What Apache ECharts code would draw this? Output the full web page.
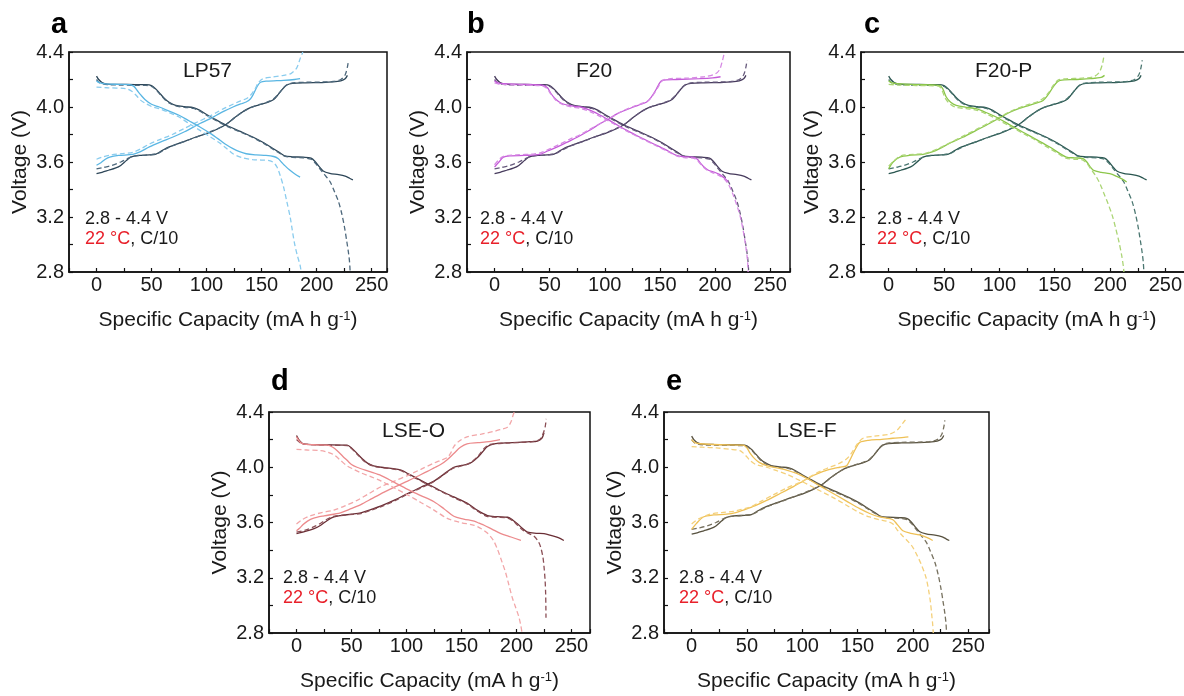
<!DOCTYPE html>
<html>
<head>
<meta charset="utf-8">
<script src="https://cdn.jsdelivr.net/npm/echarts@6.0.0/dist/echarts.min.js"></script>
<style>
html, body { margin: 0; padding: 0; background: #fff; }
#main { width: 1184px; height: 696px; }
</style>
</head>
<body>
<div id="main"></div>
<script>
// ---- data: [capacity (mA h g-1), voltage (V)] ----
// dark reference curves, shared by panels a, b, c, e
var DARK_CHG = [[0,3.515],[5,3.525],[11,3.54],[17,3.555],[22,3.575],[27,3.61],[31,3.635],[38,3.648],[48,3.652],[54,3.657],[60,3.685],[66,3.71],[78,3.745],[90,3.78],[100,3.806],[110,3.84],[118,3.875],[125,3.92],[131,3.955],[137,3.985],[143,4.005],[150,4.02],[156,4.035],[161,4.055],[165,4.09],[169,4.13],[173,4.16],[178,4.172],[190,4.176],[205,4.178],[215,4.182],[222,4.19],[226,4.205],[228,4.23]];
var DARK_CHG_DASH = [[0,3.55],[6,3.56],[14,3.575],[22,3.6],[28,3.625],[34,3.642],[45,3.65],[55,3.66],[62,3.69],[70,3.72],[82,3.755],[95,3.795],[108,3.835],[118,3.875],[126,3.925],[133,3.965],[140,3.995],[147,4.015],[155,4.035],[161,4.06],[166,4.1],[171,4.15],[176,4.172],[190,4.18],[205,4.182],[215,4.186],[222,4.2],[226,4.235],[228,4.29],[229,4.34]];
var DARK_DIS = [[0,4.225],[2,4.2],[5,4.178],[10,4.167],[20,4.165],[35,4.163],[45,4.162],[50,4.155],[54,4.13],[58,4.095],[62,4.06],[66,4.035],[72,4.012],[80,4.002],[88,3.995],[94,3.975],[100,3.945],[108,3.91],[118,3.867],[130,3.825],[142,3.782],[152,3.74],[160,3.7],[166,3.67],[171,3.645],[178,3.638],[188,3.635],[195,3.628],[199,3.6],[202,3.57],[206,3.535],[212,3.518],[220,3.508],[226,3.497],[230,3.482],[233,3.47]];
var DARK_DIS_DASH = [[0,4.2],[3,4.175],[10,4.162],[20,4.16],[35,4.158],[45,4.157],[50,4.15],[54,4.125],[58,4.09],[62,4.055],[66,4.03],[72,4.008],[80,3.998],[88,3.99],[94,3.97],[100,3.94],[108,3.905],[118,3.862],[130,3.82],[142,3.778],[152,3.735],[160,3.695],[166,3.665],[171,3.642],[178,3.634],[188,3.63],[195,3.62],[199,3.59],[203,3.55],[207,3.51],[212,3.46],[216,3.39],[220,3.31],[223,3.22],[225.5,3.12],[227.5,3.02],[229,2.94],[230,2.87],[230.5,2.8]];

// a: LP57
var LP57_CHG = [[0,3.576],[4,3.595],[8,3.62],[12,3.636],[20,3.648],[33,3.655],[40,3.675],[48,3.71],[58,3.745],[69,3.78],[80,3.82],[94,3.88],[102,3.91],[109,3.94],[116,3.97],[124,4.0],[131,4.022],[136,4.036],[140,4.06],[143,4.1],[146,4.15],[149,4.18],[155,4.188],[170,4.194],[180,4.2],[185,4.206]];
var LP57_CHG_DASH = [[0,3.62],[5,3.635],[12,3.65],[22,3.66],[33,3.67],[40,3.695],[48,3.73],[58,3.765],[69,3.8],[80,3.845],[94,3.9],[102,3.93],[109,3.96],[116,3.99],[124,4.02],[131,4.045],[136,4.06],[140,4.085],[144,4.13],[147,4.175],[151,4.205],[160,4.218],[170,4.23],[177,4.245],[182,4.285],[185,4.35],[187.5,4.4]];
var LP57_DIS = [[0,4.19],[3,4.175],[8,4.168],[20,4.165],[30,4.163],[34,4.15],[37,4.12],[40,4.09],[44,4.055],[50,4.02],[57,4.0],[66,3.97],[75,3.94],[84,3.9],[94,3.855],[103,3.81],[112,3.76],[118,3.725],[124,3.697],[130,3.675],[136,3.66],[145,3.652],[154,3.648],[161,3.64],[165,3.625],[168,3.6],[171,3.575],[175,3.545],[180,3.515],[185,3.49]];
var LP57_DIS_DASH = [[0,4.145],[10,4.14],[27,4.133],[32,4.115],[36,4.085],[40,4.05],[45,4.024],[51,4.0],[57,3.988],[66,3.96],[75,3.927],[84,3.88],[94,3.83],[103,3.785],[112,3.738],[118,3.7],[124,3.66],[132,3.632],[142,3.617],[150,3.614],[157,3.61],[161,3.595],[164,3.564],[167,3.5],[170,3.418],[173,3.31],[176,3.2],[178,3.1],[180,3.006],[182.5,2.92],[185,2.85],[186,2.8]];

// b: F20
var F20_CHG = [[0,3.564],[4,3.6],[8,3.636],[15,3.645],[27,3.648],[41,3.655],[48,3.68],[57,3.71],[66,3.745],[75,3.78],[85,3.825],[96,3.88],[104,3.915],[111,3.95],[118,3.975],[126,4.0],[133,4.02],[138,4.036],[142,4.07],[146,4.12],[149,4.165],[152,4.194],[165,4.2],[186,4.206],[198,4.212],[205,4.22]];
var F20_CHG_DASH = [[0,3.58],[5,3.625],[10,3.645],[20,3.652],[35,3.658],[42,3.668],[50,3.695],[58,3.725],[68,3.765],[78,3.8],[88,3.845],[98,3.89],[106,3.925],[113,3.958],[120,3.985],[128,4.01],[135,4.03],[140,4.05],[144,4.09],[148,4.14],[152,4.19],[158,4.205],[175,4.21],[190,4.22],[200,4.24],[204,4.27],[206.5,4.33],[208,4.38]];
var F20_DIS = [[0,4.19],[3,4.175],[8,4.17],[25,4.165],[44,4.158],[48,4.14],[51,4.1],[55,4.06],[59,4.035],[63,4.02],[70,4.008],[78,4.0],[87,3.975],[96,3.94],[108,3.885],[120,3.83],[132,3.78],[144,3.733],[155,3.69],[165,3.648],[172,3.638],[180,3.636],[184,3.62],[187,3.59],[190,3.564],[194,3.54],[199,3.527],[204,3.51],[209,3.48],[212,3.455]];
var F20_DIS_DASH = [[0,4.175],[5,4.165],[25,4.16],[44,4.152],[48,4.13],[51,4.095],[55,4.055],[59,4.03],[63,4.015],[70,4.0],[78,3.99],[87,3.965],[96,3.93],[108,3.878],[120,3.825],[132,3.775],[144,3.728],[155,3.685],[165,3.645],[172,3.632],[180,3.628],[184,3.61],[188,3.575],[192,3.545],[197,3.525],[203,3.505],[208,3.48],[212,3.44],[216,3.37],[220,3.28],[223,3.2],[226,3.08],[228,2.98],[229.5,2.88],[230,2.8]];

// c: F20-P
var F20P_CHG = [[0,3.55],[4,3.6],[10,3.636],[20,3.65],[31,3.655],[40,3.675],[46,3.697],[56,3.74],[67,3.78],[79,3.83],[91,3.88],[100,3.92],[109,3.96],[118,3.99],[127,4.012],[134,4.03],[139.5,4.048],[144,4.09],[148.5,4.145],[152,4.18],[155,4.194],[168,4.2],[182,4.206],[192,4.215],[195,4.23]];
var F20P_CHG_DASH = [[0,3.57],[5,3.61],[11,3.645],[22,3.655],[33,3.662],[41,3.685],[48,3.71],[58,3.75],[69,3.795],[81,3.845],[92,3.89],[101,3.93],[110,3.968],[119,3.998],[128,4.022],[135,4.04],[140,4.065],[145,4.11],[149,4.16],[153,4.195],[160,4.205],[175,4.21],[185,4.22],[190,4.25],[193,4.31],[194.5,4.376]];
var F20P_DIS = [[0,4.19],[3,4.175],[8,4.17],[25,4.163],[46,4.158],[49,4.13],[52,4.073],[56,4.035],[61,4.012],[70,3.998],[79,3.988],[88,3.96],[97,3.927],[109,3.872],[121,3.818],[133,3.765],[145.5,3.709],[153,3.67],[160.5,3.636],[168,3.63],[175.6,3.624],[179,3.6],[182,3.565],[185,3.54],[192,3.525],[199.7,3.515],[206,3.495],[211,3.475],[215,3.455]];
var F20P_DIS_DASH = [[0,4.165],[8,4.16],[25,4.156],[45,4.152],[48,4.125],[51,4.065],[55,4.025],[60,4.0],[70,3.988],[79,3.978],[88,3.95],[97,3.915],[109,3.862],[121,3.81],[133,3.758],[145,3.7],[153,3.662],[160,3.628],[168,3.62],[175,3.615],[179,3.59],[183,3.545],[187,3.5],[191,3.44],[194,3.38],[198,3.3],[202,3.21],[205,3.12],[208,3.02],[210.5,2.92],[212,2.84],[212.5,2.8]];

// d: LSE-O (own dark curves)
var LSEO_DARK_CHG = [[0,3.52],[8,3.535],[16,3.555],[22,3.58],[28,3.615],[34,3.64],[40,3.65],[50,3.66],[58.5,3.67],[68,3.695],[77,3.72],[90,3.765],[101,3.81],[113,3.855],[125,3.9],[134,3.95],[143,4.0],[150,4.013],[155,4.02],[160,4.04],[164.5,4.07],[169,4.11],[173.6,4.15],[179.7,4.17],[190,4.176],[201,4.18],[212,4.185],[219,4.19],[223,4.21],[225,4.25]];
var LSEO_DARK_CHG_DASH = [[0,3.53],[8,3.545],[16,3.57],[22,3.595],[28,3.625],[34,3.645],[45,3.655],[58.5,3.665],[68,3.69],[77,3.715],[90,3.76],[101,3.805],[113,3.85],[125,3.897],[134,3.948],[143,3.995],[150,4.01],[156,4.025],[161,4.05],[166,4.09],[171,4.14],[176,4.165],[190,4.175],[205,4.18],[215,4.185],[221,4.2],[224,4.24],[226,4.29],[227,4.35]];
var LSEO_DARK_DIS = [[0,4.23],[3,4.19],[6,4.17],[20,4.163],[46,4.16],[50,4.14],[55,4.1],[60,4.06],[64.5,4.03],[70,4.01],[77,4.0],[86,3.992],[95,3.98],[101,3.955],[107,3.93],[119,3.88],[131,3.83],[143,3.785],[155,3.74],[164,3.69],[173.6,3.65],[182,3.642],[192,3.638],[197,3.615],[201,3.59],[205,3.56],[210,3.53],[218,3.522],[225,3.52],[232,3.505],[238,3.49],[243,3.47]];
var LSEO_DARK_DIS_DASH = [[0,4.2],[4,4.175],[10,4.165],[25,4.16],[46,4.157],[50,4.135],[55,4.095],[60,4.055],[65,4.025],[71,4.005],[78,3.997],[87,3.988],[95,3.975],[101,3.95],[107,3.925],[119,3.876],[131,3.826],[143,3.78],[155,3.735],[164,3.685],[173,3.645],[182,3.638],[192,3.632],[197,3.61],[201,3.58],[205,3.55],[210,3.525],[216,3.5],[220,3.46],[222,3.42],[224,3.35],[225,3.28],[226,3.18],[226.5,3.08],[226.7,2.98],[226.8,2.91]];
var LSEO_CHG = [[0,3.54],[3,3.56],[6,3.585],[10,3.61],[15,3.63],[25,3.648],[40,3.67],[48,3.695],[58.5,3.73],[69,3.775],[79.7,3.82],[90,3.86],[101,3.9],[110,3.935],[119,3.97],[125,3.995],[131,4.02],[137,4.055],[143,4.1],[149,4.145],[155,4.17],[165,4.178],[175,4.185],[185,4.2]];
var LSEO_CHG_DASH = [[0,3.59],[5,3.62],[13,3.65],[22,3.67],[34,3.69],[44,3.72],[55,3.76],[66,3.81],[77,3.86],[89,3.9],[101,3.94],[113,3.985],[125,4.03],[131,4.05],[137,4.07],[140,4.1],[143,4.15],[148,4.19],[155,4.22],[168,4.24],[179.7,4.26],[186,4.275],[191.8,4.29],[195,4.33],[197,4.38],[198,4.4]];
var LSEO_DIS = [[0,4.22],[3,4.185],[6,4.17],[15,4.163],[28,4.16],[33,4.145],[37,4.12],[42,4.08],[46,4.05],[50,4.02],[55,4.0],[66,3.97],[77,3.94],[89,3.89],[101,3.84],[113,3.795],[125,3.75],[134,3.7],[143,3.645],[152,3.625],[161.5,3.61],[166,3.595],[170.6,3.58],[178,3.55],[185.8,3.52],[195,3.495],[204,3.47]];
var LSEO_DIS_DASH = [[0,4.13],[10,4.125],[22,4.12],[28,4.11],[34,4.09],[40,4.05],[46,4.01],[52,3.985],[58.5,3.96],[68,3.93],[77,3.9],[89,3.85],[101,3.8],[113,3.745],[125,3.69],[137,3.63],[149,3.6],[161.5,3.58],[168,3.555],[174,3.52],[179,3.47],[183,3.4],[187,3.31],[190,3.24],[193,3.15],[196,3.06],[199,2.99],[202,2.92],[204,2.85],[205,2.8]];

// e: LSE-F
var LSEF_CHG = [[0,3.55],[4,3.59],[10.5,3.64],[20,3.655],[31.6,3.66],[40,3.672],[46.7,3.69],[57,3.72],[67.8,3.76],[80,3.81],[92,3.86],[101,3.9],[110,3.94],[119,3.97],[128,3.99],[134,4.0],[140,4.01],[143,4.05],[146,4.1],[149,4.145],[152,4.18],[160,4.195],[172,4.202],[182,4.21],[192,4.216],[196,4.22]];
var LSEF_CHG_DASH = [[0,3.59],[6,3.625],[16.6,3.66],[27,3.672],[37.7,3.68],[45,3.695],[52.7,3.71],[63,3.755],[73.8,3.8],[86,3.85],[98,3.89],[107,3.93],[116,3.97],[125,4.0],[134,4.03],[140,4.06],[143,4.085],[146,4.12],[150,4.17],[155,4.21],[165,4.225],[179,4.24],[186,4.27],[191,4.32],[194,4.35]];
var LSEF_DIS = [[0,4.2],[3,4.178],[8,4.17],[25,4.163],[46.7,4.16],[50,4.14],[53,4.1],[56,4.07],[61,4.035],[67.8,4.012],[77,3.995],[85.8,3.98],[95,3.955],[104,3.92],[116,3.865],[128,3.81],[140,3.755],[152,3.7],[161,3.665],[170,3.64],[176,3.632],[182,3.62],[186,3.585],[191,3.54],[198,3.522],[206,3.51],[213,3.49],[218,3.47]];
var LSEF_DIS_DASH = [[0,4.15],[10,4.145],[22.6,4.14],[35,4.13],[43.7,4.12],[47,4.1],[50,4.075],[52.7,4.05],[58,4.02],[67.8,4.0],[77,3.975],[85.8,3.95],[95,3.915],[104,3.88],[116,3.83],[128,3.78],[140,3.725],[152,3.67],[161,3.64],[170,3.62],[176,3.61],[182,3.59],[186,3.545],[190,3.51],[196,3.46],[200,3.42],[204,3.36],[208,3.29],[212,3.2],[214.5,3.1],[216,3.02],[217,2.94],[218,2.86],[218.5,2.8]];

var X_MIN = -25, X_STEP = 25;
var Y_MIN = 2.8, Y_MAX = 4.4, Y_STEP = 0.2;
var NOTE_RANGE = '2.8 - 4.4 V';
var NOTE_TEMP = '22 °C';
var NOTE_RATE = ', C/10';

var FONT = 'Liberation Sans, Arial, sans-serif';

// panel layout and colours
var panels = [
    {letter: 'a', name: 'LP57', left: 69, top: 52, width: 318, height: 220, xMax: 264,
     letterX: 51, letterY: 10, nameX: 183, nameY: 61, noteX: 85, noteY: 209,
     dark: '#2d4658', darkDash: '#4d687c', col: '#5ab6e3', colDash: '#8accee',
     dk: [DARK_CHG, DARK_CHG_DASH, DARK_DIS, DARK_DIS_DASH],
     cl: [LP57_CHG, LP57_CHG_DASH, LP57_DIS, LP57_DIS_DASH]},
    {letter: 'b', name: 'F20', left: 467, top: 52, width: 323, height: 220, xMax: 268,
     letterX: 467, letterY: 10, nameX: 576, nameY: 61, noteX: 480, noteY: 209,
     dark: '#463a5c', darkDash: '#665a7c', col: '#c45ad8', colDash: '#d68ae4',
     dk: [DARK_CHG, DARK_CHG_DASH, DARK_DIS, DARK_DIS_DASH],
     cl: [F20_CHG, F20_CHG_DASH, F20_DIS, F20_DIS_DASH]},
    {letter: 'c', name: 'F20-P', left: 861, top: 52, width: 332, height: 220, xMax: 274.9,
     letterX: 864, letterY: 10, nameX: 975, nameY: 61, noteX: 877, noteY: 209,
     dark: '#2a5650', darkDash: '#4a7670', col: '#8cc64a', colDash: '#abd575',
     dk: [DARK_CHG, DARK_CHG_DASH, DARK_DIS, DARK_DIS_DASH],
     cl: [F20P_CHG, F20P_CHG_DASH, F20P_DIS, F20P_DIS_DASH]},
    {letter: 'd', name: 'LSE-O', left: 269, top: 412, width: 321, height: 221, xMax: 266.8,
     letterX: 271, letterY: 367, nameX: 382, nameY: 421, noteX: 283, noteY: 568,
     dark: '#6a2e35', darkDash: '#8a4e55', col: '#ec8a8c', colDash: '#f2a6a8',
     dk: [LSEO_DARK_CHG, LSEO_DARK_CHG_DASH, LSEO_DARK_DIS, LSEO_DARK_DIS_DASH],
     cl: [LSEO_CHG, LSEO_CHG_DASH, LSEO_DIS, LSEO_DIS_DASH]},
    {letter: 'e', name: 'LSE-F', left: 664, top: 412, width: 325, height: 221, xMax: 268.9,
     letterX: 666, letterY: 367, nameX: 777, nameY: 421, noteX: 679, noteY: 568,
     dark: '#57513f', darkDash: '#77715f', col: '#eec055', colDash: '#f4d07a',
     dk: [DARK_CHG, DARK_CHG_DASH, DARK_DIS, DARK_DIS_DASH],
     cl: [LSEF_CHG, LSEF_CHG_DASH, LSEF_DIS, LSEF_DIS_DASH]}
];

var dom = document.getElementById('main');
var myChart = echarts.init(dom);

var grids = [], xAxes = [], yAxes = [], series = [], titles = [];
var isDash = [false, true, false, true];

panels.forEach(function (p, i) {
    grids.push({
        left: p.left, top: p.top, width: p.width, height: p.height,
        outerBoundsMode: 'none', containLabel: false,
        show: true, borderColor: '#111', borderWidth: 1.5, backgroundColor: 'transparent'
    });
    xAxes.push({
        gridIndex: i, type: 'value', min: X_MIN, max: p.xMax, interval: X_STEP,
        name: '{n|Specific Capacity (mA h g}{s|-1}{n|)}',
        nameLocation: 'middle', nameGap: 38,
        nameTextStyle: {
            rich: {
                n: {fontSize: 21, fontFamily: FONT, color: '#1a1a1a'},
                s: {fontSize: 13, fontFamily: FONT, color: '#1a1a1a', verticalAlign: 'top'}
            }
        },
        axisLine: {onZero: false, lineStyle: {color: '#111', width: 1.5}},
        axisTick: {inside: true, length: 4, lineStyle: {color: '#111', width: 1.2}},
        axisLabel: {
            margin: 3, fontSize: 20, fontFamily: FONT, color: '#1a1a1a',
            formatter: function (v) { return (v >= 0 && v % 50 === 0) ? String(v) : ''; }
        },
        splitLine: {show: false}
    });
    yAxes.push({
        gridIndex: i, type: 'value', min: Y_MIN, max: Y_MAX, interval: Y_STEP,
        name: 'Voltage (V)', nameLocation: 'middle', nameGap: 38,
        nameTextStyle: {fontSize: 21, fontFamily: FONT, color: '#1a1a1a'},
        axisLine: {onZero: false, lineStyle: {color: '#111', width: 1.5}},
        axisTick: {inside: true, length: 4, lineStyle: {color: '#111', width: 1.2}},
        axisLabel: {
            margin: 5, fontSize: 20, fontFamily: FONT, color: '#1a1a1a',
            formatter: function (v) {
                var k = Math.round(v * 10);
                return k % 4 === 0 ? (k / 10).toFixed(1) : '';
            }
        },
        splitLine: {show: false}
    });

    // dark curves underneath, coloured curves on top
    [['dk', p.dark, p.darkDash], ['cl', p.col, p.colDash]].forEach(function (grp) {
        p[grp[0]].forEach(function (arr, j) {
            series.push({
                type: 'line', xAxisIndex: i, yAxisIndex: i,
                data: arr, showSymbol: false, smooth: 0.3, silent: true,
                clip: true,
                lineStyle: {
                    color: isDash[j] ? grp[2] : grp[1],
                    width: 1.3,
                    type: isDash[j] ? [5, 3] : 'solid'
                }
            });
        });
    });

    titles.push({
        text: p.letter, left: p.letterX, top: p.letterY, padding: 0,
        textStyle: {fontSize: 29, fontWeight: 'bold', fontFamily: FONT, color: '#000'}
    });
    titles.push({
        text: p.name, left: p.nameX, top: p.nameY, padding: 0,
        textStyle: {fontSize: 21, fontWeight: 'normal', fontFamily: FONT, color: '#1a1a1a'}
    });
    titles.push({
        text: NOTE_RANGE + '\n{r|' + NOTE_TEMP + '}' + NOTE_RATE,
        left: p.noteX, top: p.noteY, padding: 0,
        textStyle: {
            fontSize: 18, fontWeight: 'normal', fontFamily: FONT, color: '#1a1a1a', lineHeight: 20,
            rich: {r: {fontSize: 18, fontFamily: FONT, color: '#e8202a', lineHeight: 20}}
        }
    });
});

var option = {
    backgroundColor: '#fff',
    animation: false,
    title: titles,
    grid: grids,
    xAxis: xAxes,
    yAxis: yAxes,
    series: series
};
myChart.setOption(option, true);
</script>
</body>
</html>
